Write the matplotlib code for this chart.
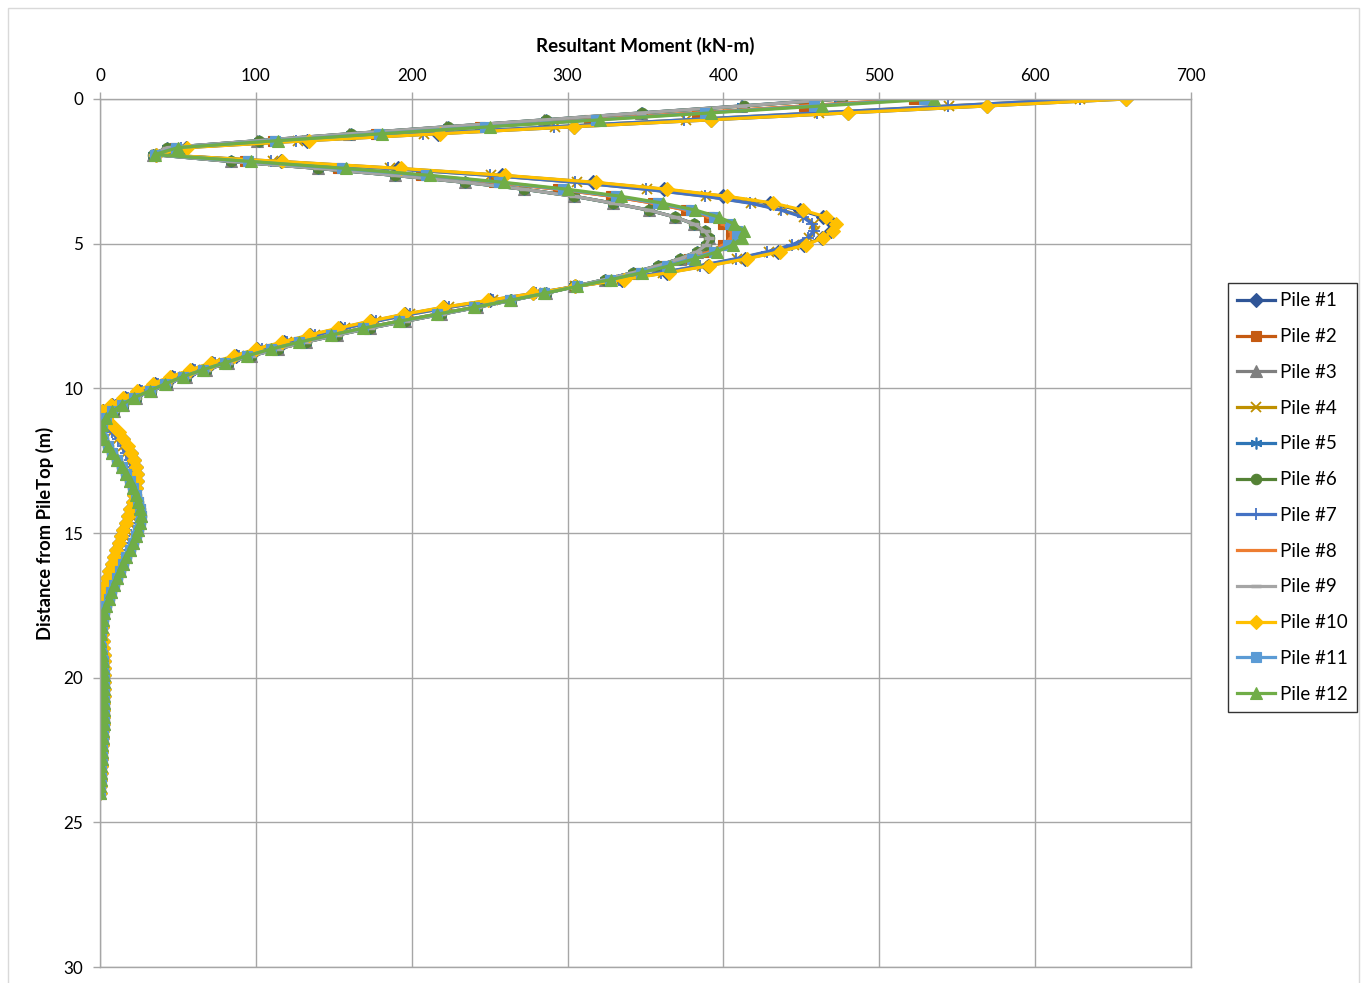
import numpy as np
import matplotlib
matplotlib.use("Agg")
import matplotlib.pyplot as plt
from matplotlib.patches import Rectangle

# ---------------- data ----------------
depth = np.linspace(0, 24, 101)  # sample depths (m), 0.24 m spacing

pile_1 = [658, 569, 480, 392, 304, 217, 133, 55, 36,
          116, 191, 258, 316, 362, 400, 430, 449, 464, 470,
          469, 463, 452, 435, 414, 390, 364, 335, 305,
          278, 250, 221, 196, 174, 154, 135, 118, 101,
          87, 72, 59, 46, 35, 25, 16, 8, 2,
          3, 7, 11, 14.5, 17.5, 20, 22, 23, 23.5, 23.5, 23, 22, 21, 19.5,
          18, 16.5, 15, 13.5, 12, 10.5, 9, 7.5, 6, 4.5,
          3.3, 2.2, 1.2, 0.5, 0.3, 0.8, 1.2, 1.6, 1.9, 2.1,
          2.3, 2.4, 2.5, 2.5, 2.5, 2.4, 2.3, 2.2, 2.0, 1.9,
          1.7, 1.5, 1.3, 1.1, 0.9, 0.7, 0.5, 0.4, 0.2, 0.1, 0.0]
pile_2 = [522, 452, 383, 314, 244, 177, 111, 48, 35,
          93, 153, 206, 253, 294, 328, 355, 376, 391, 400,
          405, 405, 400, 391, 378, 362, 345, 326, 305,
          285, 263, 240, 216, 192, 169, 148, 128, 110,
          94, 80, 66, 53, 42, 32, 22, 14, 8,
          4, 1.5, 0.5, 2, 5, 8, 11, 14, 17, 19, 21, 23, 24.5, 25.5,
          26, 25.5, 24.5, 23, 21, 19, 17, 15, 13, 11,
          9, 7, 5.5, 4, 2.8, 1.8, 1.0, 0.4, 0.3, 0.8,
          1.3, 1.7, 2.0, 2.3, 2.5, 2.6, 2.7, 2.7, 2.6, 2.5,
          2.3, 2.1, 1.9, 1.6, 1.4, 1.1, 0.9, 0.6, 0.4, 0.2, 0.0]
pile_3 = [474, 411, 347, 285, 222, 160, 101, 43, 34,
          84, 140, 189, 234, 272, 304, 329, 352, 369, 381,
          388, 391, 389, 383, 372, 358, 342, 324, 304,
          286, 264, 242, 219, 196, 173, 152, 132, 114,
          97, 82, 68, 55, 43, 33, 23, 15, 9,
          4.5, 1.8, 0.5, 2, 5, 8, 11, 14, 17, 19, 21, 23, 24.5, 25.5,
          26, 25.5, 24.5, 23, 21, 19, 17, 15, 13, 11,
          9, 7, 5.5, 4, 2.8, 1.8, 1.0, 0.4, 0.3, 0.8,
          1.3, 1.7, 2.0, 2.3, 2.5, 2.6, 2.7, 2.7, 2.6, 2.5,
          2.3, 2.1, 1.9, 1.6, 1.4, 1.1, 0.9, 0.6, 0.4, 0.2, 0.0]
pile_4 = [629, 545, 461, 376, 292, 208, 127, 53, 36,
          111, 186, 251, 306, 351, 389, 418, 438, 452, 458,
          459, 455, 445, 429, 409, 386, 361, 334, 305,
          280, 252, 224, 199, 177, 157, 138, 120, 104,
          89, 74, 61, 48, 37, 27, 18, 10, 4,
          1.5, 4, 8, 11.5, 14.5, 17, 19, 20.5, 21.5, 22.5, 23, 23, 22.5, 21.5,
          20, 18.5, 17, 15.5, 14, 12.5, 11, 9.5, 8, 6.5,
          5, 3.8, 2.7, 1.8, 1.0, 0.5, 0.6, 1.0, 1.4, 1.7,
          2.0, 2.2, 2.4, 2.5, 2.6, 2.6, 2.5, 2.4, 2.3, 2.1,
          1.9, 1.7, 1.5, 1.3, 1.1, 0.9, 0.7, 0.5, 0.3, 0.1, 0.0]
pile_5 = [474, 412, 348, 286, 223, 161, 102, 43, 34,
          84, 140, 189, 234, 272, 304, 329, 352, 369, 381,
          388, 391, 389, 383, 372, 358, 342, 324, 304,
          286, 264, 242, 219, 196, 173, 152, 132, 114,
          97, 82, 68, 55, 43, 33, 23, 15, 9,
          4.5, 1.8, 0.5, 2, 5, 8, 11, 14, 17, 19, 21, 23, 24.5, 25.5,
          26, 25.5, 24.5, 23, 21, 19, 17, 15, 13, 11,
          9, 7, 5.5, 4, 2.8, 1.8, 1.0, 0.4, 0.3, 0.8,
          1.3, 1.7, 2.0, 2.3, 2.5, 2.6, 2.7, 2.7, 2.6, 2.5,
          2.3, 2.1, 1.9, 1.6, 1.4, 1.1, 0.9, 0.6, 0.4, 0.2, 0.0]
pile_6 = [476, 413, 348, 286, 223, 161, 102, 43, 34,
          84, 140, 189, 234, 272, 304, 329, 352, 369, 381,
          388, 391, 389, 383, 372, 358, 342, 324, 304,
          286, 264, 242, 219, 196, 173, 152, 132, 114,
          97, 82, 68, 55, 43, 33, 23, 15, 9,
          4.5, 1.8, 0.5, 2, 5, 8, 11, 14, 17, 19, 21, 23, 24.5, 25.5,
          26, 25.5, 24.5, 23, 21, 19, 17, 15, 13, 11,
          9, 7, 5.5, 4, 2.8, 1.8, 1.0, 0.4, 0.3, 0.8,
          1.3, 1.7, 2.0, 2.3, 2.5, 2.6, 2.7, 2.7, 2.6, 2.5,
          2.3, 2.1, 1.9, 1.6, 1.4, 1.1, 0.9, 0.6, 0.4, 0.2, 0.0]
pile_7 = [629, 544, 460, 375, 291, 207, 126, 52, 36,
          110, 185, 250, 305, 350, 388, 417, 437, 451, 457,
          458, 454, 444, 428, 408, 385, 360, 333, 305,
          280, 252, 224, 199, 177, 157, 138, 120, 104,
          89, 74, 61, 48, 37, 27, 18, 10, 4,
          1.5, 4, 8, 11.5, 14.5, 17, 19, 20.5, 21.5, 22.5, 23, 23, 22.5, 21.5,
          20, 18.5, 17, 15.5, 14, 12.5, 11, 9.5, 8, 6.5,
          5, 3.8, 2.7, 1.8, 1.0, 0.5, 0.6, 1.0, 1.4, 1.7,
          2.0, 2.2, 2.4, 2.5, 2.6, 2.6, 2.5, 2.4, 2.3, 2.1,
          1.9, 1.7, 1.5, 1.3, 1.1, 0.9, 0.7, 0.5, 0.3, 0.1, 0.0]
pile_8 = [522, 452, 383, 314, 244, 177, 111, 48, 35,
          93, 153, 206, 253, 294, 328, 355, 376, 391, 400,
          405, 405, 400, 391, 378, 362, 345, 326, 305,
          285, 263, 240, 216, 192, 169, 148, 128, 110,
          94, 80, 66, 53, 42, 32, 22, 14, 8,
          4, 1.5, 0.5, 2, 5, 8, 11, 14, 17, 19, 21, 23, 24.5, 25.5,
          26, 25.5, 24.5, 23, 21, 19, 17, 15, 13, 11,
          9, 7, 5.5, 4, 2.8, 1.8, 1.0, 0.4, 0.3, 0.8,
          1.3, 1.7, 2.0, 2.3, 2.5, 2.6, 2.7, 2.7, 2.6, 2.5,
          2.3, 2.1, 1.9, 1.6, 1.4, 1.1, 0.9, 0.6, 0.4, 0.2, 0.0]
pile_9 = [475, 412, 347, 285, 222, 160, 101, 43, 34,
          84, 140, 189, 234, 272, 304, 329, 352, 369, 381,
          388, 391, 389, 383, 372, 358, 342, 324, 304,
          286, 264, 242, 219, 196, 173, 152, 132, 114,
          97, 82, 68, 55, 43, 33, 23, 15, 9,
          4.5, 1.8, 0.5, 2, 5, 8, 11, 14, 17, 19, 21, 23, 24.5, 25.5,
          26, 25.5, 24.5, 23, 21, 19, 17, 15, 13, 11,
          9, 7, 5.5, 4, 2.8, 1.8, 1.0, 0.4, 0.3, 0.8,
          1.3, 1.7, 2.0, 2.3, 2.5, 2.6, 2.7, 2.7, 2.6, 2.5,
          2.3, 2.1, 1.9, 1.6, 1.4, 1.1, 0.9, 0.6, 0.4, 0.2, 0.0]
pile_10 = [658, 569, 480, 392, 304, 218, 134, 56, 36,
           117, 193, 260, 318, 364, 402, 432, 451, 466, 472,
           470, 464, 453, 436, 415, 391, 365, 336, 305,
           278, 249, 220, 195, 173, 153, 134, 117, 100,
           86, 71, 58, 45, 34, 24, 15, 7, 1,
           4, 8, 12, 15, 18, 20, 22, 23, 23.5, 23.5, 23, 22, 21, 19.5,
           18, 16.5, 15, 13.5, 12, 10.5, 9, 7.5, 6, 4.5,
           3.3, 2.2, 1.2, 0.5, 0.3, 0.8, 1.2, 1.6, 1.9, 2.1,
           2.3, 2.4, 2.5, 2.5, 2.5, 2.4, 2.3, 2.2, 2.0, 1.9,
           1.7, 1.5, 1.3, 1.1, 0.9, 0.7, 0.5, 0.4, 0.2, 0.1, 0.0]
pile_11 = [529, 458, 388, 318, 247, 179, 112, 49, 35,
           95, 155, 209, 256, 297, 331, 358, 379, 394, 404,
           409, 409, 403, 394, 380, 364, 347, 327, 306,
           285, 263, 240, 216, 192, 169, 148, 128, 110,
           94, 80, 66, 53, 42, 32, 22, 14, 8,
           4, 1.5, 0.5, 2, 5, 8, 11, 14, 17, 19, 21, 23, 24.5, 25.5,
           26, 25.5, 24.5, 23, 21, 19, 17, 15, 13, 11,
           9, 7, 5.5, 4, 2.8, 1.8, 1.0, 0.4, 0.3, 0.8,
           1.3, 1.7, 2.0, 2.3, 2.5, 2.6, 2.7, 2.7, 2.6, 2.5,
           2.3, 2.1, 1.9, 1.6, 1.4, 1.1, 0.9, 0.6, 0.4, 0.2, 0.0]
pile_12 = [535, 463, 392, 321, 250, 181, 114, 50, 35,
           97, 158, 212, 259, 300, 334, 361, 382, 397, 407,
           413, 412, 406, 396, 382, 366, 348, 328, 306,
           285, 263, 240, 216, 192, 169, 148, 128, 110,
           94, 80, 66, 53, 42, 32, 22, 14, 8,
           4, 1.5, 0.5, 2, 5, 8, 11, 14, 17, 19, 21, 23, 24.5, 25.5,
           26, 25.5, 24.5, 23, 21, 19, 17, 15, 13, 11,
           9, 7, 5.5, 4, 2.8, 1.8, 1.0, 0.4, 0.3, 0.8,
           1.3, 1.7, 2.0, 2.3, 2.5, 2.6, 2.7, 2.7, 2.6, 2.5,
           2.3, 2.1, 1.9, 1.6, 1.4, 1.1, 0.9, 0.6, 0.4, 0.2, 0.0]

labels = ["Pile #1", "Pile #2", "Pile #3", "Pile #4", "Pile #5", "Pile #6",
          "Pile #7", "Pile #8", "Pile #9", "Pile #10", "Pile #11", "Pile #12"]
series = [pile_1, pile_2, pile_3, pile_4, pile_5, pile_6,
          pile_7, pile_8, pile_9, pile_10, pile_11, pile_12]

x_ticks = [0, 100, 200, 300, 400, 500, 600, 700]
y_ticks = [0, 5, 10, 15, 20, 25, 30]

# ---------------- styles ----------------
colors = ["#2F5597", "#C55A11", "#7F7F7F", "#BF9000", "#2E75B6", "#548235",
          "#4472C4", "#ED7D31", "#A5A5A5", "#FFC000", "#5B9BD5", "#70AD47"]
markers = ["D", "s", "^", "x", (6, 2, 0), "o", "+", "_", "_", "D", "s", "^"]
msizes = [7, 7, 8, 7.5, 8.5, 7.5, 8.5, 5, 7, 7, 7, 8]
mews = [0.8, 0.8, 0.8, 1.3, 1.2, 0.8, 1.3, 2.0, 2.5, 0.8, 0.8, 0.8]

plt.rcParams['font.family'] = ['Lato', 'DejaVu Sans']

fig = plt.figure(figsize=(13.67, 9.83), dpi=100)
ax = fig.add_axes([100/1367, 1 - 967/983, 1091/1367, 868/983])

for vals, lab, c, m, ms, mw in zip(series, labels, colors, markers, msizes, mews):
    ax.plot(vals, depth, color=c, lw=2.3, marker=m, markersize=ms,
            markerfacecolor=c, markeredgecolor=c, markeredgewidth=mw,
            label=lab, solid_joinstyle='round')

ax.set_xlim(0, 700)
ax.set_ylim(30, 0)
ax.set_xticks(x_ticks)
ax.set_yticks(y_ticks)
ax.xaxis.tick_top()
ax.grid(True, color="#A6A6A6", lw=1.0)
ax.set_axisbelow(True)
for s in ax.spines.values():
    s.set_color("#A6A6A6")
    s.set_linewidth(1.0)
ax.tick_params(axis='both', length=5, width=1.0, color="#A6A6A6",
               labelsize=12.3, labelcolor="#000000")
ax.tick_params(axis='x', pad=6)
ax.tick_params(axis='y', pad=7)

ax.set_xlabel("Resultant Moment (kN-m)", fontsize=13.5, fontweight='bold')
ax.xaxis.set_label_position('top')
ax.xaxis.set_label_coords(0.5, 1 + 53/868)
ax.xaxis.label.set_va('center')
ax.set_ylabel("Distance from PileTop (m)", fontsize=13.2, fontweight='bold')
ax.yaxis.set_label_coords(-55/1091, 0.5)
ax.yaxis.label.set_va('center')

leg = fig.legend(loc='upper left', bbox_to_anchor=(1228/1367, 1 - 283/983),
                 frameon=True, fancybox=False, edgecolor='black',
                 fontsize=13.5, handlelength=2.0, handletextpad=0.28,
                 labelspacing=1.0, borderpad=0.5, borderaxespad=0)
leg.get_frame().set_linewidth(1.0)

fig.patches.append(Rectangle((8/1367, -0.01), 1351/1367, 1 - 8/983 + 0.01,
                             transform=fig.transFigure, fill=False,
                             edgecolor="#D9D9D9", lw=1.0))

fig.savefig("out.png", dpi=100)
